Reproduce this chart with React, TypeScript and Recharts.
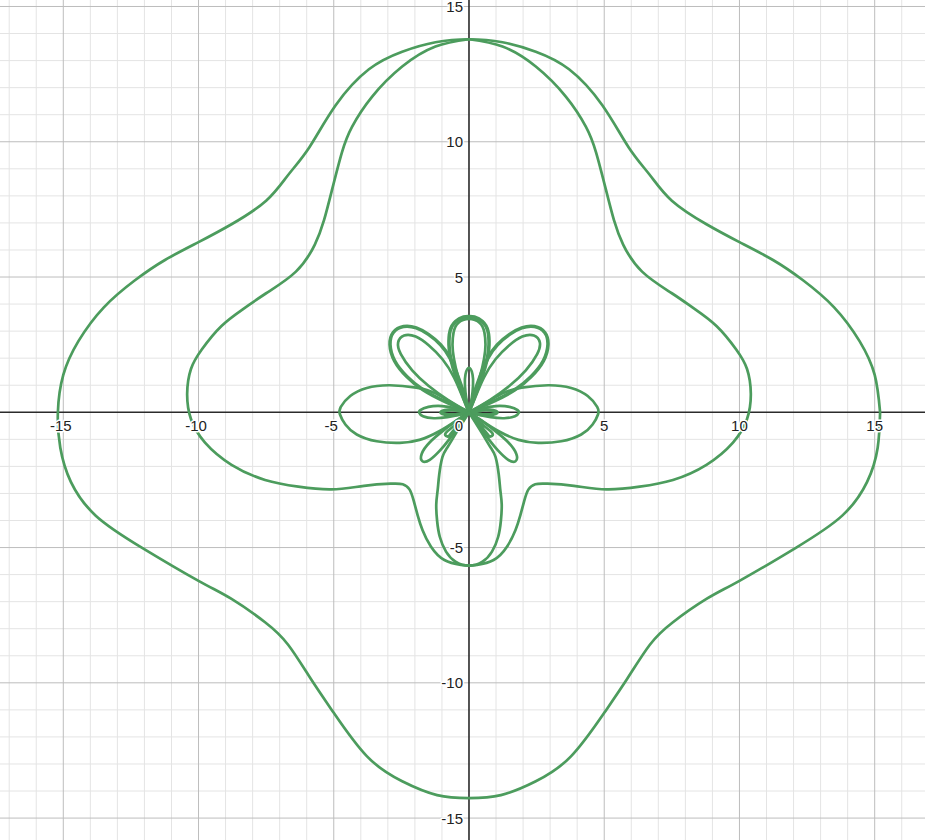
import React from "react";
import { ComposedChart, Line, Scatter, XAxis, YAxis, ReferenceLine } from "recharts";

type Pt = [number, number];

// view window (graph units)
const xDomain: [number, number] = [-17.34, 16.86];
const yDomain: [number, number] = [-15.81, 15.24];

// grid + tick values
const minorX = [-17, -16, -14, -13, -12, -11, -9, -8, -7, -6, -4, -3, -2, -1, 1, 2, 3, 4, 6, 7, 8, 9, 11, 12, 13, 14, 16];
const minorY = [-14, -13, -12, -11, -9, -8, -7, -6, -4, -3, -2, -1, 1, 2, 3, 4, 6, 7, 8, 9, 11, 12, 13, 14];
const majorX = [-15, -10, -5, 5, 10, 15];
const majorY = [-15, -10, -5, 5, 10, 15];
const xTickLabels = ["-15", "-10", "-5", "5", "10", "15"];
const yTickLabels = ["-15", "-10", "-5", "5", "10", "15"];

// curves
const outerCurve: Pt[] = [
  [15.2, 0], [15.0, 1.38], [14.44, 2.63], [13.5, 3.88], [12.35, 4.88], [11.24, 5.63],
  [10.0, 6.29], [8.78, 6.95], [7.5, 7.82], [6.68, 8.78], [5.9, 9.8], [4.93, 11.35],
  [3.7, 12.68], [2.47, 13.33], [1.24, 13.68], [0, 13.79],
  [-1.24, 13.68], [-2.47, 13.33], [-3.7, 12.68], [-4.93, 11.35], [-5.9, 9.8], [-6.68, 8.78],
  [-7.5, 7.82], [-8.78, 6.95], [-10.0, 6.29], [-11.24, 5.63], [-12.35, 4.88], [-13.5, 3.88],
  [-14.44, 2.63], [-15.0, 1.38], [-15.2, 0],
  [-15.11, -1.31], [-14.72, -2.57], [-13.8, -3.82], [-12.1, -5.0], [-10.0, -6.23],
  [-8.78, -6.9], [-7.54, -7.76], [-6.68, -8.6], [-5.85, -9.85], [-5.0, -11.11], [-3.77, -12.72],
  [-2.47, -13.64], [-1.18, -14.15], [0, -14.26],
  [1.18, -14.15], [2.47, -13.64], [3.77, -12.72], [5.0, -11.11], [5.85, -9.85], [6.68, -8.6],
  [7.54, -7.76], [8.78, -6.9], [10.0, -6.23], [12.1, -5.0], [13.8, -3.82],
  [14.72, -2.57], [15.11, -1.31], [15.2, 0],
];

const innerCurve: Pt[] = [
  [0, 13.79], [1.24, 13.52], [2.47, 12.78], [3.58, 11.67], [4.32, 10.56], [4.7, 9.6],
  [5.07, 8.2], [5.36, 7.1], [5.7, 6.2], [6.4, 5.2], [7.5, 4.4], [8.3, 3.85], [9.15, 3.19],
  [9.88, 2.32], [10.28, 1.6], [10.42, 0.69], [10.28, -0.25], [9.76, -1.12], [8.78, -1.94],
  [7.54, -2.5], [6.31, -2.75], [5.08, -2.85], [3.88, -2.72], [2.9, -2.64], [2.45, -2.66],
  [2.2, -2.85], [2.05, -3.25], [1.9, -3.8], [1.72, -4.35], [1.41, -4.96], [0.91, -5.46],
  [0.3, -5.64], [0, -5.67],
  [-0.3, -5.64], [-0.91, -5.46], [-1.41, -4.96], [-1.72, -4.35], [-1.9, -3.8], [-2.05, -3.25],
  [-2.2, -2.85], [-2.45, -2.66], [-2.9, -2.64], [-3.88, -2.72], [-5.08, -2.85], [-6.31, -2.75],
  [-7.54, -2.5], [-8.78, -1.94], [-9.76, -1.12], [-10.28, -0.25], [-10.42, 0.69], [-10.28, 1.6],
  [-9.88, 2.32], [-9.15, 3.19], [-8.3, 3.85], [-7.5, 4.4], [-6.4, 5.2], [-5.7, 6.2],
  [-5.36, 7.1], [-5.07, 8.2], [-4.7, 9.6], [-4.32, 10.56], [-3.58, 11.67], [-2.47, 12.78],
  [-1.24, 13.52], [0, 13.79],
];

const petalRight: Pt[] = [
  [0, 0], [0.49, 0.26], [1.22, 0.69], [1.95, 0.91], [2.93, 1.0], [3.78, 0.9], [4.39, 0.6],
  [4.74, 0.2], [4.77, -0.08], [4.57, -0.45], [4.15, -0.82], [3.41, -1.07], [2.56, -1.13],
  [1.83, -1.02], [1.1, -0.7], [0.49, -0.32], [0, 0],
];
const petalLeft: Pt[] = [
  [0, 0], [-0.49, 0.26], [-1.22, 0.69], [-1.95, 0.91], [-2.93, 1.0], [-3.78, 0.9], [-4.39, 0.6],
  [-4.74, 0.2], [-4.77, -0.08], [-4.57, -0.45], [-4.15, -0.82], [-3.41, -1.07], [-2.56, -1.13],
  [-1.83, -1.02], [-1.1, -0.7], [-0.49, -0.32], [0, 0],
];
const petalUpLeftOuter: Pt[] = [
  [0, 0], [-0.9, 0.4], [-1.7, 0.83], [-2.3, 1.32], [-2.75, 1.9], [-2.92, 2.5], [-2.8, 2.95],
  [-2.42, 3.17], [-1.95, 3.12], [-1.5, 2.88], [-1.05, 2.5], [-0.7, 2.0], [-0.4, 1.3],
  [-0.16, 0.6], [0, 0],
];
const petalUpLeftInner: Pt[] = [
  [0, 0], [-0.78, 0.46], [-1.5, 0.98], [-2.1, 1.55], [-2.52, 2.15], [-2.62, 2.58], [-2.4, 2.84],
  [-1.97, 2.8], [-1.48, 2.47], [-0.98, 1.96], [-0.55, 1.28], [-0.22, 0.52], [0, 0],
];
const petalUpRightOuter: Pt[] = [
  [0, 0], [0.9, 0.4], [1.7, 0.83], [2.3, 1.32], [2.75, 1.9], [2.92, 2.5], [2.8, 2.95],
  [2.42, 3.17], [1.95, 3.12], [1.5, 2.88], [1.05, 2.5], [0.7, 2.0], [0.4, 1.3],
  [0.16, 0.6], [0, 0],
];
const petalUpRightInner: Pt[] = [
  [0, 0], [0.78, 0.46], [1.5, 0.98], [2.1, 1.55], [2.52, 2.15], [2.62, 2.58], [2.4, 2.84],
  [1.97, 2.8], [1.48, 2.47], [0.98, 1.96], [0.55, 1.28], [0.22, 0.52], [0, 0],
];
const petalTopOuter: Pt[] = [
  [0, 0], [0.22, 0.6], [0.48, 1.3], [0.68, 2.0], [0.74, 2.5], [0.7, 3.0], [0.5, 3.35], [0.2, 3.52],
  [0, 3.54], [-0.2, 3.52], [-0.5, 3.35], [-0.7, 3.0], [-0.74, 2.5], [-0.68, 2.0], [-0.48, 1.3],
  [-0.22, 0.6], [0, 0],
];
const petalTopInner: Pt[] = [
  [0, 0], [0.18, 0.6], [0.4, 1.3], [0.56, 2.0], [0.61, 2.5], [0.57, 2.95], [0.4, 3.3], [0, 3.45],
  [-0.4, 3.3], [-0.57, 2.95], [-0.61, 2.5], [-0.56, 2.0], [-0.4, 1.3], [-0.18, 0.6], [0, 0],
];
const petalTopSmall: Pt[] = [
  [0, 0], [0.1, 0.5], [0.15, 1.0], [0.13, 1.4], [0, 1.64], [-0.13, 1.4], [-0.15, 1.0], [-0.1, 0.5], [0, 0],
];
const petalSideRight: Pt[] = [
  [0, 0], [0.5, 0.15], [1.0, 0.23], [1.5, 0.2], [1.8, 0.08], [1.84, -0.02], [1.7, -0.15],
  [1.3, -0.22], [0.8, -0.18], [0.3, -0.08], [0, 0],
];
const petalSideLeft: Pt[] = [
  [0, 0], [-0.5, 0.15], [-1.0, 0.23], [-1.5, 0.2], [-1.8, 0.08], [-1.84, -0.02], [-1.7, -0.15],
  [-1.3, -0.22], [-0.8, -0.18], [-0.3, -0.08], [0, 0],
];
const petalTinyRight: Pt[] = [[0, 0], [0.5, 0.09], [0.9, 0.07], [1.04, 0], [0.9, -0.07], [0.5, -0.09], [0, 0]];
const petalTinyLeft: Pt[] = [[0, 0], [-0.5, 0.09], [-0.9, 0.07], [-1.04, 0], [-0.9, -0.07], [-0.5, -0.09], [0, 0]];
const petalLowLeft: Pt[] = [
  [0, 0], [-0.45, -0.3], [-0.94, -0.67], [-1.44, -1.1], [-1.75, -1.54], [-1.72, -1.81],
  [-1.45, -1.76], [-1.07, -1.41], [-0.76, -1.04], [-0.39, -0.54], [0, 0],
];
const petalLowRight: Pt[] = [
  [0, 0], [0.45, -0.3], [0.94, -0.67], [1.44, -1.1], [1.75, -1.54], [1.72, -1.81],
  [1.45, -1.76], [1.07, -1.41], [0.76, -1.04], [0.39, -0.54], [0, 0],
];
const loopLowLeft: Pt[] = [[0, 0], [-0.55, -0.5], [-0.8, -0.7], [-0.88, -0.84], [-0.78, -0.9], [-0.64, -0.75], [0, 0]];
const loopLowRight: Pt[] = [[0, 0], [0.55, -0.5], [0.8, -0.7], [0.88, -0.84], [0.78, -0.9], [0.64, -0.75], [0, 0]];
const petalBottom: Pt[] = [
  [0, 0], [0.49, -0.79], [0.8, -1.3], [0.98, -1.65], [1.1, -2.3], [1.16, -2.89], [1.21, -3.4],
  [1.18, -4.0], [1.08, -4.6], [0.85, -5.15], [0.5, -5.52], [0, -5.67], [-0.5, -5.52],
  [-0.85, -5.15], [-1.08, -4.6], [-1.18, -4.0], [-1.21, -3.4], [-1.16, -2.89], [-1.1, -2.3],
  [-0.98, -1.65], [-0.8, -1.3], [-0.49, -0.79], [0, 0],
];

const curves: Pt[][] = [
  outerCurve, innerCurve, petalRight, petalLeft, petalUpLeftOuter, petalUpLeftInner,
  petalUpRightOuter, petalUpRightInner, petalTopOuter, petalTopInner, petalTopSmall,
  petalSideRight, petalSideLeft, petalTinyRight, petalTinyLeft, petalLowLeft, petalLowRight,
  loopLowLeft, loopLowRight, petalBottom,
];
// loops that are traced several times over look heavier
const heavy = new Set<Pt[]>([petalUpLeftOuter, petalUpRightOuter, petalTopOuter, petalTinyRight, petalTinyLeft]);

const GREEN = "#4c9c5d";
const MINOR = "#e4e4e4";
const MAJOR = "#bdbdbd";
const AXIS = "#2b2b2b";
const FONT = "'Liberation Sans', Arial, sans-serif";

const toRows = (pts: Pt[]) => pts.map(([x, y]) => ({ x, y }));

const labelRows = [
  ...majorX.map((v, i) => ({ x: v, y: 0, kind: "x", text: xTickLabels[i] })),
  ...majorY.map((v, i) => ({ x: 0, y: v, kind: "y", text: yTickLabels[i] })),
  { x: 0, y: 0, kind: "o", text: "0" },
];

function TickText(props: any) {
  const { cx, cy, payload } = props;
  let x = cx;
  let y = cy;
  let anchor: "middle" | "end" = "middle";
  if (payload.kind === "x") {
    x = cx + (payload.x < 0 ? -2.5 : 0);
    y = cy + 19;
  } else if (payload.kind === "y") {
    x = cx - 6;
    y = cy + 5.5;
    anchor = "end";
  } else {
    x = cx - 6;
    y = cy + 19;
    anchor = "end";
  }
  return (
    <text
      x={x}
      y={y}
      textAnchor={anchor}
      fontSize={15}
      fontFamily={FONT}
      fill="#222"
      stroke="#fff"
      strokeWidth={3}
      paintOrder="stroke"
      strokeLinejoin="round"
    >
      {payload.text}
    </text>
  );
}

export default function App() {
  return (
    <div style={{ position: "fixed", left: 0, top: 0, width: 925, height: 840, background: "#fff" }}>
      <ComposedChart width={925} height={840} margin={{ top: 0, right: 0, bottom: 0, left: 0 }}>
        <XAxis type="number" dataKey="x" domain={xDomain} hide allowDataOverflow />
        <YAxis type="number" dataKey="y" domain={yDomain} hide allowDataOverflow />

        {minorX.map((v) => (
          <ReferenceLine key={"mx" + v} x={v} stroke={MINOR} strokeWidth={1} />
        ))}
        {minorY.map((v) => (
          <ReferenceLine key={"my" + v} y={v} stroke={MINOR} strokeWidth={1} />
        ))}
        {majorX.map((v) => (
          <ReferenceLine key={"Mx" + v} x={v} stroke={MAJOR} strokeWidth={1} />
        ))}
        {majorY.map((v) => (
          <ReferenceLine key={"My" + v} y={v} stroke={MAJOR} strokeWidth={1} />
        ))}
        <ReferenceLine x={0} stroke={AXIS} strokeWidth={1.6} />
        <ReferenceLine y={0} stroke={AXIS} strokeWidth={1.6} />

        {curves.map((pts, i) => (
          <Line
            key={"c" + i}
            data={toRows(pts)}
            dataKey="y"
            type="natural"
            stroke={GREEN}
            strokeWidth={heavy.has(pts) ? 3.6 : 2.7}
            strokeLinejoin="round"
            dot={false}
            activeDot={false}
            isAnimationActive={false}
          />
        ))}

        <Scatter data={labelRows} dataKey="y" shape={TickText} isAnimationActive={false} />
      </ComposedChart>
    </div>
  );
}
